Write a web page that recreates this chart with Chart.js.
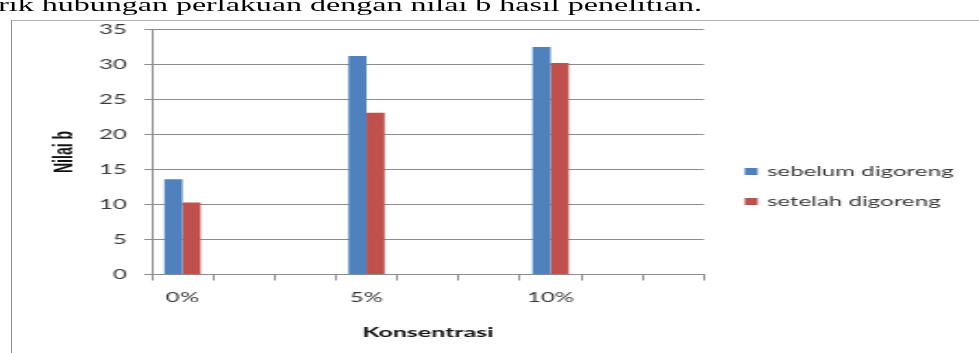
<!DOCTYPE html>
<html>
<head>
<meta charset="utf-8">
<script src="https://cdn.jsdelivr.net/npm/chart.js@4/dist/chart.umd.min.js"></script>
<style>
  html, body { margin: 0; padding: 0; background: #fff; overflow: hidden; width: 979px; height: 353px; }
  /* the chart sheet is drawn narrow and widened horizontally */
  #sheet { position: absolute; left: 0; top: 0; width: 529px; height: 353px; transform: scale(1.8507, 1); transform-origin: 0 0; }
  #caption { position: absolute; left: -1px; top: -5px; font-family: "Liberation Serif", "Times New Roman", serif; font-size: 19px; line-height: 1; white-space: nowrap; color: #000; transform: scale(0.91, 1); transform-origin: 0 0; }
  #frame { position: absolute; left: 11px; top: 20px; width: 990px; height: 400px; border-left: 1.5px solid #8a8a8a; border-top: 1px solid #b4b4b4; }
  canvas { position: absolute; left: 0; top: 0; }
</style>
</head>
<body>
<div id="frame"></div>
<div id="sheet">
  <div id="caption">rik hubungan perlakuan dengan nilai b hasil penelitian.</div>
  <canvas id="c" width="529" height="353"></canvas>
</div>
<script>
// Nilai b per konsentrasi
const categories = ['0%', '5%', '10%'];
const sebelumDigoreng = [13.6, 31.2, 32.5];
const setelahDigoreng = [10.3, 23.1, 30.2];
const seriesNames = ['sebelum digoreng', 'setelah digoreng'];
const yTicks = [0, 5, 10, 15, 20, 25, 30, 35];

// every concentration is followed by two empty slots on the category axis
const emptySlots = 2;
const axisLabels = categories.flatMap(c => [c, ...Array(emptySlots).fill('')]);
const spread = values => values.flatMap(v => [v, ...Array(emptySlots).fill(null)]);

const BLUE = '#4F81BD';
const RED = '#C0504D';
const GRID = '#8c8c8c';
const TEXT = '#3a3a3a';

// legend drawn at the right of the plot, squares followed by the series names
const sideLegend = {
  id: 'sideLegend',
  afterDraw(chart) {
    const ctx = chart.ctx;
    const x = chart.chartArea.right + 22;
    const mid = 186.5, gap = 30;
    const n = chart.data.datasets.length;
    ctx.save();
    ctx.font = '13px Lato';
    ctx.textBaseline = 'middle';
    ctx.textAlign = 'left';
    chart.data.datasets.forEach((ds, i) => {
      const y = mid + (i - (n - 1) / 2) * gap;
      ctx.fillStyle = ds.backgroundColor;
      ctx.fillRect(x, y - 3.5, 7, 7);
      ctx.fillStyle = TEXT;
      ctx.fillText(ds.label, x + 12, y + 0.5);
    });
    ctx.restore();
  }
};

new Chart(document.getElementById('c'), {
  type: 'bar',
  data: {
    labels: axisLabels,
    datasets: [
      { label: seriesNames[0], data: spread(sebelumDigoreng), backgroundColor: BLUE },
      { label: seriesNames[1], data: spread(setelahDigoreng), backgroundColor: RED }
    ]
  },
  options: {
    responsive: false,
    animation: false,
    layout: { padding: { top: 29.5, right: 148.6, left: 0, bottom: 0 } },
    datasets: { bar: { categoryPercentage: 0.59, barPercentage: 1.0 } },
    plugins: { legend: { display: false }, tooltip: { enabled: false } },
    scales: {
      x: {
        grid: { display: true, drawOnChartArea: false, drawTicks: true, tickLength: 6, color: GRID, offset: true },
        border: { display: true, color: GRID },
        ticks: { autoSkip: false, maxRotation: 0, padding: 9.5, color: TEXT, font: { family: 'Lato', size: 13 } },
        title: { display: true, text: 'Konsentrasi', color: '#111', font: { family: 'Lato', size: 13.5, weight: 'bold' }, padding: { top: 0, bottom: 12 } },
        afterFit(scale) { scale.height = 78.5; }
      },
      y: {
        min: 0, max: 35,
        afterBuildTicks(scale) { scale.ticks = yTicks.map(v => ({ value: v })); },
        grid: { color: GRID, drawTicks: true, tickLength: 4 },
        border: { display: true, color: GRID },
        ticks: { padding: 9.5, color: TEXT, font: { family: 'Lato', size: 13 } },
        title: { display: true, text: 'Nilai b', color: '#111', font: { family: 'Liberation Sans', size: 14, weight: 'bold' }, padding: { top: 27, bottom: 0 } },
        afterFit(scale) { scale.width = 82; }
      }
    }
  },
  plugins: [sideLegend]
});
</script>
</body>
</html>
